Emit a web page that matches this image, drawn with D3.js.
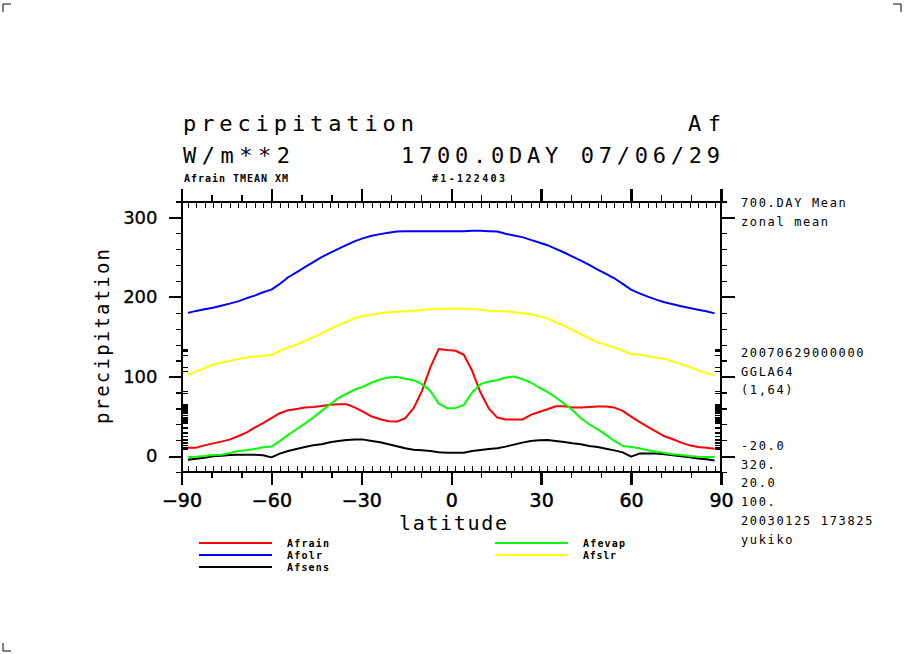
<!DOCTYPE html>
<html>
<head>
<meta charset="utf-8">
<script src="https://cdn.jsdelivr.net/npm/d3@7"></script>
<style>
  body { margin: 0; background: #fff; }
  svg { display: block; }
</style>
</head>
<body>
<div id="chart"></div>
<script>
// Gaussian latitudes (T42, 64 points), south to north
const lats = [-87.86, -85.10, -82.31, -79.53, -76.74, -73.95, -71.16, -68.37, -65.58, -62.79,
  -60.00, -57.21, -54.42, -51.63, -48.84, -46.04, -43.25, -40.46, -37.67, -34.88,
  -32.09, -29.30, -26.51, -23.72, -20.93, -18.14, -15.35, -12.56, -9.77, -6.98, -4.19, -1.40,
  1.40, 4.19, 6.98, 9.77, 12.56, 15.35, 18.14, 20.93, 23.72, 26.51, 29.30, 32.09,
  34.88, 37.67, 40.46, 43.25, 46.04, 48.84, 51.63, 54.42, 57.21, 60.00, 62.79,
  65.58, 68.37, 71.16, 73.95, 76.74, 79.53, 82.31, 85.10, 87.86];

const afrain = [10.6, 10.6, 13.5, 16.0, 18.2, 20.7, 24.9, 29.5, 35.8, 41.3, 47.6, 53.9, 57.6, 59.3, 61.0, 61.8,
  63.1, 64.4, 65.2, 65.2, 61.0, 55.5, 49.7, 46.3, 43.8, 43.4, 47.6, 60.2, 82.0, 111.4, 134.5, 133.2,
  132.4, 127.4, 107.2, 79.9, 59.7, 48.4, 45.9, 45.9, 45.9, 51.8, 55.5, 58.9, 62.7, 62.7, 61.0, 61.0,
  61.8, 62.3, 62.3, 61.0, 56.8, 49.7, 42.9, 36.6, 30.8, 24.9, 21.1, 16.9, 13.5, 11.4, 10.6, 9.3];

const afolr = [180.0, 182.5, 184.5, 186.5, 189.0, 191.6, 194.5, 198.3, 201.7, 205.9, 209.2, 216.4, 224.8, 231.0, 237.4, 243.7,
  250.0, 255.4, 260.5, 265.5, 270.2, 274.0, 276.9, 279.0, 280.6, 282.3, 282.7, 282.7, 282.7, 282.7, 282.7, 282.7,
  282.7, 282.7, 283.2, 283.2, 282.7, 282.3, 279.4, 277.3, 275.2, 271.8, 268.5, 265.1, 260.5, 255.9, 250.8, 245.8,
  240.3, 234.5, 229.0, 223.5, 216.4, 209.2, 204.6, 200.4, 196.7, 193.3, 190.8, 188.3, 186.2, 184.0, 182.0, 179.4];

const afsens = [-4.5, -3.3, -2.0, -0.3, 0.5, 1.4, 1.8, 1.8, 1.8, 1.0, -1.6, 3.1, 6.4, 8.9, 11.4, 13.5,
  14.8, 17.3, 19.0, 20.3, 20.7, 20.7, 19.0, 17.3, 14.8, 12.3, 9.8, 8.1, 7.2, 6.4, 4.7, 4.3,
  4.3, 4.3, 6.4, 7.7, 8.9, 9.8, 11.9, 14.4, 16.9, 19.0, 19.8, 20.3, 19.0, 17.7, 16.1, 14.8,
  12.7, 11.4, 9.3, 7.2, 4.7, -0.7, 3.1, 3.1, 3.1, 2.2, 1.0, -0.3, -1.6, -2.9, -4.1, -5.4];

const afevap = [-1.2, -0.7, 0.1, 1.4, 1.8, 3.9, 6.4, 7.2, 8.9, 11.0, 11.9, 19.0, 26.6, 33.7, 40.8, 48.4,
  56.8, 65.2, 72.8, 78.6, 83.7, 87.5, 92.5, 96.3, 98.8, 99.6, 97.1, 95.4, 90.4, 82.0, 66.0, 60.2,
  60.2, 64.4, 79.9, 90.4, 93.8, 95.4, 98.8, 100.0, 96.7, 92.5, 86.2, 80.7, 73.6, 66.0, 57.6, 47.6,
  40.0, 33.7, 26.6, 19.0, 12.7, 11.4, 9.8, 7.2, 5.6, 3.9, 2.2, 1.4, 0.1, -0.7, -1.2, -1.2];

const afslr = [102.2, 106.4, 110.6, 114.8, 117.3, 119.8, 121.9, 124.0, 125.3, 126.1, 127.0, 132.4, 136.6, 140.0, 145.0, 149.2,
  154.2, 159.7, 164.7, 168.9, 173.6, 176.1, 177.8, 179.4, 180.7, 181.5, 182.0, 182.8, 183.6, 184.5, 185.3, 185.3,
  185.3, 185.3, 185.3, 184.0, 182.8, 182.4, 182.0, 180.7, 179.4, 178.2, 175.7, 173.1, 168.1, 163.9, 158.4, 153.4,
  147.9, 142.9, 140.0, 136.6, 132.4, 128.2, 127.4, 125.7, 123.2, 122.3, 119.0, 115.6, 112.2, 108.0, 104.3, 101.3];

const seriesNames = ["Afrain", "Afolr", "Afsens", "Afevap", "Afslr"];
const seriesColors = ["#ff0000", "#0000ff", "#000000", "#00ff00", "#ffff00"];
const seriesValues = [afrain, afolr, afsens, afevap, afslr];

const xTicks = [-90, -60, -30, 0, 30, 60, 90];
const yTicks = [0, 100, 200, 300];
const notesTop = ["700.DAY Mean", "zonal mean"];
const notesMid = ["20070629000000", "GGLA64", "(1,64)"];
const notesLow = ["-20.0", "320.", "20.0", "100.", "20030125 173825", "yukiko"];

const W = 904, H = 654;
const svg = d3.select("#chart").append("svg")
    .attr("width", W)
    .attr("height", H);

const x = d3.scaleLinear().domain([-90, 90]).range([181.5, 721]);
const y = d3.scaleLinear().domain([-20, 320]).range([472, 201.5]);

const mono = "'DejaVu Sans Mono', monospace";
const sans = "'DejaVu Sans', sans-serif";

// corner marks
svg.append("path")
    .attr("d", "M3,12V4H11 M893,4H901V12 M3,643V651H11")
    .attr("fill", "none").attr("stroke", "#000").attr("stroke-width", 1);

// titles
function label(txt, px, py, size, opts = {}) {
    const t = svg.append("text")
        .attr("x", px).attr("y", py)
        .style("font-family", opts.family || mono)
        .style("font-size", size + "px")
        .style("font-weight", opts.weight || "normal")
        .attr("fill", "#000")
        .text(txt);
    if (opts.len) t.attr("textLength", opts.len).attr("lengthAdjust", "spacing");
    return t;
}
label("precipitation", 183, 131, 22, { len: 231 });
label("Af", 688, 131, 22, { len: 33 });
label("W/m**2", 183, 163, 22, { len: 107 });
label("1700.0DAY 07/06/29", 401, 163, 22, { len: 319 });
label("Afrain TMEAN XM", 184, 182, 10, { weight: "bold", len: 104 });
label("#1-122403", 432, 182, 10, { weight: "bold", len: 73 });

// right-hand notes
notesTop.forEach((d, i) => label(d, 741, 207 + i * 18.7, 12).style("letter-spacing", "1.65px"));
notesMid.forEach((d, i) => label(d, 741, 357 + i * 18.7, 12).style("letter-spacing", "1.65px"));
notesLow.forEach((d, i) => label(d, 741, 450 + i * 18.7, 12).style("letter-spacing", "1.65px"));

// axes
const axes = svg.append("g").attr("shape-rendering", "crispEdges");

function styleAxis(g, width) {
    g.select(".domain").remove();
    g.selectAll(".tick line").attr("stroke", "#000").attr("stroke-width", width);
}

// major ticks with labels
axes.append("g")
    .attr("transform", `translate(${x(-90)},0)`)
    .call(d3.axisLeft(y).tickValues(yTicks).tickSize(13).tickPadding(11).tickFormat(d3.format("d")))
    .call(g => styleAxis(g, 2))
    .call(g => g.selectAll("text")
        .style("font-family", sans).style("font-size", "18px")
        .attr("fill", "#000").attr("stroke", "#000").attr("stroke-width", 0.3));

axes.append("g")
    .attr("transform", `translate(0,${y(-20)})`)
    .call(d3.axisBottom(x).tickValues(xTicks).tickSize(13).tickPadding(9).tickFormat(d3.format("d")))
    .call(g => styleAxis(g, 2.5))
    .call(g => g.selectAll("text")
        .style("font-family", sans).style("font-size", "19px")
        .attr("fill", "#000").attr("stroke", "#000").attr("stroke-width", 0.5));

axes.append("g")
    .attr("transform", `translate(0,${y(320)})`)
    .call(d3.axisTop(x).tickValues(xTicks).tickSize(13).tickFormat(""))
    .call(g => styleAxis(g, 2.5));

axes.append("g")
    .attr("transform", `translate(${x(90)},0)`)
    .call(d3.axisRight(y).tickValues(yTicks).tickSize(14).tickFormat(""))
    .call(g => styleAxis(g, 2));

// minor ticks
const yMinor = d3.range(-20, 321, 20);
const xMinor = d3.range(-90, 91, 10);
axes.append("g").attr("transform", `translate(${x(-90)},0)`)
    .call(d3.axisLeft(y).tickValues(yMinor).tickSize(6).tickFormat(""))
    .call(g => styleAxis(g, 1.3));
axes.append("g").attr("transform", `translate(${x(90)},0)`)
    .call(d3.axisRight(y).tickValues(yMinor).tickSize(6).tickFormat(""))
    .call(g => styleAxis(g, 1.3));
axes.append("g").attr("transform", `translate(0,${y(-20)})`)
    .call(d3.axisBottom(x).tickValues(xMinor).tickSize(6).tickFormat(""))
    .call(g => styleAxis(g, 1.3));
axes.append("g").attr("transform", `translate(0,${y(320)})`)
    .call(d3.axisTop(x).tickValues(xMinor).tickSize(7).tickFormat(""))
    .call(g => styleAxis(g, 1.3));

// inner rug ticks: latitude grid on top/bottom, first series values on left/right
axes.append("g").attr("transform", `translate(0,${y(-20)})`)
    .call(d3.axisTop(x).tickValues(lats).tickSize(6).tickFormat(""))
    .call(g => styleAxis(g, 1));
axes.append("g").attr("transform", `translate(0,${y(320)})`)
    .call(d3.axisBottom(x).tickValues(lats).tickSize(6).tickFormat(""))
    .call(g => styleAxis(g, 1));
axes.append("g").attr("transform", `translate(${x(-90)},0)`)
    .call(d3.axisRight(y).tickValues(afrain).tickSize(6).tickFormat(""))
    .call(g => styleAxis(g, 1));
axes.append("g").attr("transform", `translate(${x(90)},0)`)
    .call(d3.axisLeft(y).tickValues(afrain).tickSize(6).tickFormat(""))
    .call(g => styleAxis(g, 1));

// frame
axes.append("rect")
    .attr("x", x(-90)).attr("y", y(320))
    .attr("width", x(90) - x(-90)).attr("height", y(-20) - y(320))
    .attr("fill", "none").attr("stroke", "#000").attr("stroke-width", 2);

// axis titles
label("latitude", 399, 530, 20, { len: 108 });
svg.append("text")
    .attr("transform", `translate(108.5,424) rotate(-90)`)
    .style("font-family", mono).style("font-size", "19px")
    .attr("fill", "#000")
    .attr("textLength", 175).attr("lengthAdjust", "spacing")
    .text("precipitation");

// data lines
const line = d3.line()
    .x((d, i) => x(lats[i]))
    .y(d => y(d));

svg.append("g").selectAll("path")
    .data(seriesValues)
    .enter().append("path")
    .attr("d", d => line(d))
    .attr("fill", "none")
    .attr("stroke", (d, i) => seriesColors[i])
    .attr("stroke-width", 2)
    .attr("stroke-linejoin", "round");

// legend
const legendPos = [[199, 543], [199, 555], [199, 567], [495, 543], [495, 555]];
const legendLen = [42, 35, 42, 42, 33];
const legend = svg.selectAll(".legend")
    .data(seriesNames)
    .enter().append("g")
    .attr("class", "legend")
    .attr("transform", (d, i) => `translate(${legendPos[i][0]},${legendPos[i][1]})`);

legend.append("line")
    .attr("x1", 0).attr("x2", 73)
    .attr("y1", 0).attr("y2", 0)
    .attr("stroke", (d, i) => seriesColors[i])
    .attr("stroke-width", 2);

legend.append("text")
    .attr("x", 88).attr("y", 4)
    .style("font-family", mono).style("font-size", "10px").style("font-weight", "bold")
    .attr("textLength", (d, i) => legendLen[i]).attr("lengthAdjust", "spacing")
    .text(d => d);
</script>
</body>
</html>
